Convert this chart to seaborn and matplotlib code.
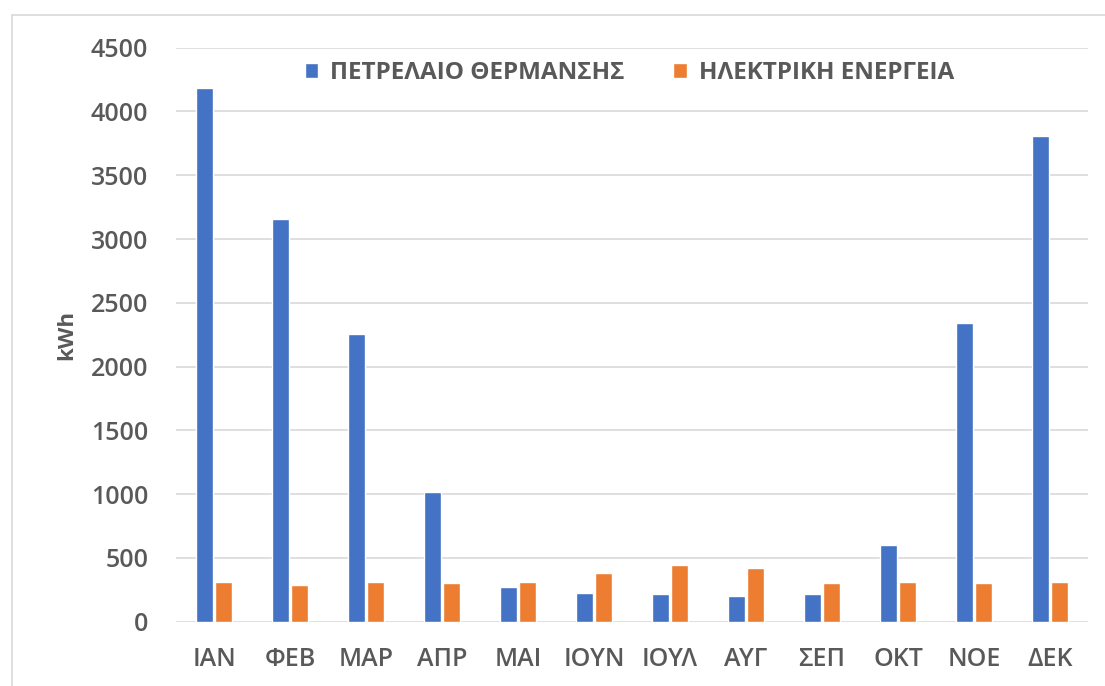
import pandas as pd
import matplotlib.pyplot as plt
import seaborn as sns
from matplotlib.lines import Line2D

months = ["ΙΑΝ", "ΦΕΒ", "ΜΑΡ", "ΑΠΡ", "ΜΑΙ", "ΙΟΥΝ", "ΙΟΥΛ", "ΑΥΓ", "ΣΕΠ", "ΟΚΤ", "ΝΟΕ", "ΔΕΚ"]
oil = [4180, 3160, 2255, 1015, 275, 225, 215, 205, 215, 605, 2345, 3810]
electric = [315, 285, 315, 305, 315, 385, 445, 425, 305, 315, 305, 315]
series_names = ["ΠΕΤΡΕΛΑΙΟ ΘΕΡΜΑΝΣΗΣ", "ΗΛΕΚΤΡΙΚΗ ΕΝΕΡΓΕΙΑ"]
yticks = [0, 500, 1000, 1500, 2000, 2500, 3000, 3500, 4000, 4500]

df = pd.DataFrame({
    "month": months * 2,
    "kwh": oil + electric,
    "series": [series_names[0]] * len(months) + [series_names[1]] * len(months),
})

palette = {series_names[0]: "#4472C4", series_names[1]: "#ED7D31"}
text_color = "#595959"

sns.set_style("white")
plt.rcParams["font.family"] = ["Open Sans", "DejaVu Sans"]

fig = plt.figure(figsize=(11.05, 6.86), dpi=100)
ax = fig.add_axes([0.1593, 0.0937, 0.8253, 0.8368])

sns.barplot(
    data=df,
    x="month",
    y="kwh",
    hue="series",
    order=months,
    hue_order=series_names,
    palette=palette,
    width=0.5,
    gap=0.15,
    saturation=1,
    ax=ax,
)

ax.set_ylim(0, 4500)
ax.set_yticks(yticks)
ax.set_yticklabels([str(t) for t in yticks])
ax.set_xlim(-0.5, len(months) - 0.5)
ax.yaxis.grid(True, color="#D9D9D9", linewidth=1.2)
ax.set_axisbelow(True)
for side in ["top", "right", "left", "bottom"]:
    ax.spines[side].set_visible(False)

ax.tick_params(axis="x", length=0, pad=18, labelsize=18, labelcolor=text_color)
ax.tick_params(axis="y", length=0, pad=20, labelsize=18, labelcolor=text_color)
for lbl in ax.get_xticklabels() + ax.get_yticklabels():
    lbl.set_fontweight("semibold")

ax.set_xlabel("")
ax.set_ylabel("kWh", fontsize=16, fontweight="bold", color=text_color, labelpad=10)

leg = ax.legend(
    loc="center",
    bbox_to_anchor=(0.497, 0.956),
    ncol=2,
    frameon=False,
    prop={"family": ["Open Sans", "DejaVu Sans"], "size": 17.5, "weight": "bold"},
    handlelength=0.55,
    handleheight=0.55,
    handletextpad=0.5,
    columnspacing=2.0,
    labelcolor=text_color,
)

# light frame around the chart area (top and left edges visible)
fig.add_artist(Line2D([12 / 1105, 12 / 1105], [0, 1 - 15 / 686], transform=fig.transFigure, color="#D9D9D9", lw=1.2))
fig.add_artist(Line2D([12 / 1105, 1], [1 - 15 / 686, 1 - 15 / 686], transform=fig.transFigure, color="#D9D9D9", lw=1.2))

fig.savefig("out.png", dpi=100)
